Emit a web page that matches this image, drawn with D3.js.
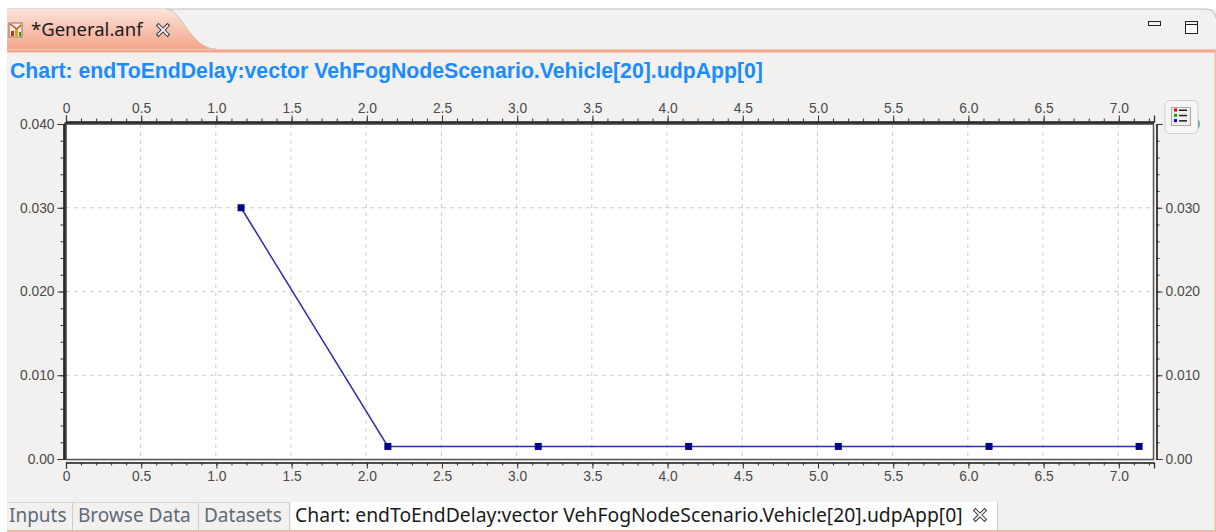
<!DOCTYPE html>
<html>
<head>
<meta charset="utf-8">
<script src="https://cdn.jsdelivr.net/npm/d3@7"></script>
<style>
  html, body { margin: 0; padding: 0; background: #fff; overflow: hidden; }
  text { font-family: "Liberation Sans", sans-serif; }
  .tick text { font-size: 13.8px; fill: #4a4a4a; }
  .ui { font-family: "Noto Sans", sans-serif; }
</style>
</head>
<body>
<div id="chart-area"></div>
<script>
const simTime = [1.164, 2.14, 3.14, 4.14, 5.135, 6.137, 7.135];
const delay   = [0.030, 0.0015, 0.0015, 0.0015, 0.0015, 0.0015, 0.0015];
const xTicks  = [0, 0.5, 1.0, 1.5, 2.0, 2.5, 3.0, 3.5, 4.0, 4.5, 5.0, 5.5, 6.0, 6.5, 7.0];
const xMinor  = d3.range(0, 73).map(d => d / 10);
const yTicks  = [0, 0.01, 0.02, 0.03, 0.04];
const yMinor  = d3.range(0, 21).map(d => d * 0.002);
const bottomTabs = ["Inputs", "Browse Data", "Datasets"];
const chartName = "endToEndDelay:vector VehFogNodeScenario.Vehicle[20].udpApp[0]";

const W = 1216, H = 532;
const plot = {left: 66, right: 1154, top: 124, bottom: 459};

const svg = d3.select("#chart-area").append("svg")
              .attr("width", W).attr("height", H)
              .style("display", "block");

const defs = svg.append("defs");
const grad = defs.append("linearGradient").attr("id", "tabFill")
                 .attr("x1", 0).attr("y1", 0).attr("x2", 0).attr("y2", 1);
grad.append("stop").attr("offset", "0%").attr("stop-color", "#fbe3d9");
grad.append("stop").attr("offset", "100%").attr("stop-color", "#f4a58a");

// window chrome
svg.append("rect").attr("x", 7).attr("y", 9).attr("width", W - 7).attr("height", H - 9)
   .attr("fill", "#f2f1f0");
svg.append("path")
   .attr("d", "M7,9 H1205 Q1215,9 1216,18")
   .attr("fill", "none").attr("stroke", "#bdbbb8");
svg.append("path")
   .attr("d", "M7,9 H166 C182,9 190,49 216,49 H7 Z")
   .attr("fill", "url(#tabFill)");
svg.append("path")
   .attr("d", "M166,9 C182,9 190,49 216,49")
   .attr("fill", "none").attr("stroke", "#c9bfb8");
svg.append("rect").attr("x", 7).attr("y", 49.5).attr("width", W - 7).attr("height", 3)
   .attr("fill", "#f4a58a");
svg.append("rect").attr("x", 1214.5).attr("y", 50).attr("width", 1.5).attr("height", H - 50)
   .attr("fill", "#f4b9a3");
svg.append("rect").attr("x", 7).attr("y", 530).attr("width", W - 7).attr("height", 2)
   .attr("fill", "#f4b9a3");

svg.append("text").attr("class", "ui").attr("x", 31).attr("y", 36)
   .attr("font-size", 18.5).attr("fill", "#1a1a1a").text("*General.anf");

// file icon
const icon = svg.append("g").attr("transform", "translate(9,23)");
icon.append("rect").attr("width", 13).attr("height", 14).attr("fill", "#f4ecd8").attr("stroke", "#8a7a50");
icon.append("path").attr("d", "M1,1 L8,6 L12,2").attr("fill", "none").attr("stroke", "#d04030").attr("stroke-width", 1.5);
icon.append("rect").attr("x", 2).attr("y", 8).attr("width", 3).attr("height", 5).attr("fill", "#c8281e");
icon.append("rect").attr("x", 6).attr("y", 6).attr("width", 3).attr("height", 7).attr("fill", "#d8a020");
icon.append("rect").attr("x", 10).attr("y", 9).attr("width", 2).attr("height", 4).attr("fill", "#3a8a30");

function closeIcon(x, y) {
  const c = svg.append("g").attr("transform", `translate(${x},${y})`);
  c.append("path").attr("d", "M-4.5,-4.5 L4.5,4.5 M4.5,-4.5 L-4.5,4.5")
   .attr("stroke", "#333").attr("stroke-width", 3.8).attr("stroke-linecap", "square");
  c.append("path").attr("d", "M-4.5,-4.5 L4.5,4.5 M4.5,-4.5 L-4.5,4.5")
   .attr("stroke", "#f4f4f4").attr("stroke-width", 1.8).attr("stroke-linecap", "square");
}
closeIcon(163, 30);

// minimize / maximize
svg.append("rect").attr("x", 1148.5).attr("y", 21.5).attr("width", 12).attr("height", 4)
   .attr("fill", "#f2f1f0").attr("stroke", "#222");
svg.append("rect").attr("x", 1185.5).attr("y", 21.5).attr("width", 12).attr("height", 12)
   .attr("fill", "#fff").attr("stroke", "#222");
svg.append("rect").attr("x", 1185.5).attr("y", 21.5).attr("width", 12).attr("height", 3)
   .attr("fill", "#f2f1f0").attr("stroke", "#222");

svg.append("text").attr("x", 10).attr("y", 78)
   .attr("font-size", 21.26).attr("font-weight", "bold").attr("fill", "#1a8cff")
   .text("Chart: " + chartName);

// scales
const x = d3.scaleLinear().domain([0, 7.234]).range([plot.left, plot.right]);
const y = d3.scaleLinear().domain([0, 0.04]).range([plot.bottom, plot.top]);

// plot area and grid
svg.append("rect").attr("x", plot.left).attr("y", plot.top)
   .attr("width", plot.right - plot.left).attr("height", plot.bottom - plot.top)
   .attr("fill", "#fff");

svg.append("g").selectAll("line").data(xTicks.slice(1)).join("line")
   .attr("x1", d => x(d) - 0.6).attr("x2", d => x(d) - 0.6)
   .attr("y1", plot.top).attr("y2", plot.bottom)
   .attr("stroke", "#ccc").attr("stroke-dasharray", "4 4");
svg.append("g").selectAll("line").data(yTicks.slice(1, -1)).join("line")
   .attr("x1", plot.left).attr("x2", plot.right)
   .attr("y1", d => y(d)).attr("y2", d => y(d))
   .attr("stroke", "#ccc").attr("stroke-dasharray", "4 4");

// series
const line = d3.line().x(d => x(d[0])).y(d => y(d[1]));
const pts = simTime.map((t, i) => [t, delay[i]]);
svg.append("path").datum(pts).attr("d", line)
   .attr("fill", "none").attr("stroke", "#2f2fa8").attr("stroke-width", 1.5);
svg.append("g").selectAll("rect").data(pts).join("rect")
   .attr("x", d => x(d[0]) - 3.5).attr("y", d => y(d[1]) - 3.5)
   .attr("width", 7).attr("height", 7).attr("fill", "#00008b");

// frame, heavier on top and left
svg.append("path")
   .attr("d", `M${plot.left - 0.5},${plot.bottom + 1} V${plot.top - 0.5} H${plot.right}`)
   .attr("fill", "none").attr("stroke", "#3c3c3c").attr("stroke-width", 2.5);
svg.append("path")
   .attr("d", `M${plot.left},${plot.bottom + 0.5} H${plot.right - 0.5} V${plot.top}`)
   .attr("fill", "none").attr("stroke", "#555").attr("stroke-width", 1.5);

// axes
function xLabel(d) { return d === 0 ? "0" : d3.format(".1f")(d); }
function yLabel(d) { return d === 0 ? "0.00" : d3.format(".3f")(d); }

function drawAxis(axisFn, scale, ticks, minor, fmt, pos) {
  const g = svg.append("g").attr("transform", pos);
  g.call(axisFn(scale).tickValues(minor).tickSize(3).tickFormat(""));
  g.selectAll(".tick line").attr("stroke", "#333");
  const g2 = svg.append("g").attr("transform", pos);
  g2.call(axisFn(scale).tickValues(ticks).tickSize(6).tickPadding(3).tickFormat(fmt));
  g2.select(".domain").attr("stroke", "#222").attr("stroke-width", 1.2);
  g2.selectAll(".tick line").attr("stroke", "#333");
  return g2;
}

drawAxis(d3.axisTop, x, xTicks, xMinor, xLabel, "translate(0,121.5)");
drawAxis(d3.axisBottom, x, xTicks, xMinor, xLabel, "translate(0,462.5)");
drawAxis(d3.axisLeft, y, yTicks, yMinor, yLabel, "translate(63.5,0)");
drawAxis(d3.axisRight, y, yTicks, yMinor, yLabel, "translate(1156.5,0)");

// legend toggle, sits over the top right axis label
svg.append("rect").attr("x", 1165).attr("y", 100.5).attr("width", 33).attr("height", 33).attr("rx", 5)
   .attr("fill", "#f7f6f5").attr("stroke", "#cfcdca");
svg.append("rect").attr("x", 1171.5).attr("y", 107.5).attr("width", 19).attr("height", 18)
   .attr("fill", "#eee").attr("stroke", "#aaa");
const swatches = ["#e00000", "#00b000", "#0000e0"];
swatches.forEach((c, i) => {
  svg.append("rect").attr("x", 1174).attr("y", 108.5 + i * 5.3).attr("width", 3).attr("height", 3).attr("fill", c);
  svg.append("rect").attr("x", 1179).attr("y", 109.5 + i * 5.3).attr("width", 8).attr("height", 1.5).attr("fill", "#222");
});

// bottom tabs
const tabX = [7, 73, 199, 290];
bottomTabs.forEach((t, i) => {
  svg.append("text").attr("class", "ui").attr("x", tabX[i] + (i === 0 ? 2 : 5)).attr("y", 522)
     .attr("font-size", 19).attr("fill", "#5d6a78").text(t);
  svg.append("line").attr("x1", tabX[i + 1] - 0.5).attr("x2", tabX[i + 1] - 0.5)
     .attr("y1", 502).attr("y2", 530).attr("stroke", "#cfcdca");
});
svg.append("line").attr("x1", 7).attr("x2", 290).attr("y1", 502.5).attr("y2", 502.5).attr("stroke", "#d5d3d0");
svg.append("rect").attr("x", 291).attr("y", 502).attr("width", 706).attr("height", 28).attr("fill", "#fff");
svg.append("line").attr("x1", 997.5).attr("x2", 997.5).attr("y1", 502).attr("y2", 530).attr("stroke", "#cfcdca");
svg.append("text").attr("class", "ui").attr("x", 295).attr("y", 522)
   .attr("font-size", 19.35).attr("fill", "#1a1a1a").text("Chart: " + chartName);
closeIcon(980, 515);
</script>
</body>
</html>
